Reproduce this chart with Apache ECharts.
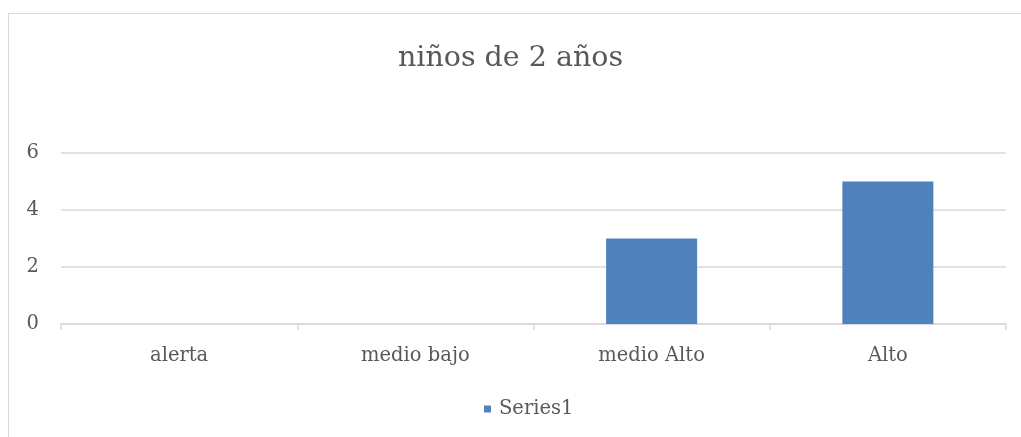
<!DOCTYPE html>
<html>
<head>
<meta charset="utf-8">
<script src="https://cdn.jsdelivr.net/npm/echarts@6/dist/echarts.min.js"></script>
<style>
  html, body { margin: 0; padding: 0; background: #fff; }
  #chart { width: 1021px; height: 437px; }
  .frame {
    position: absolute; left: 8px; top: 13px;
    width: 1030px; height: 440px;
    border: 1px solid #d9d9d9; box-sizing: border-box;
    pointer-events: none;
  }
</style>
</head>
<body>
<div id="chart"></div>
<div class="frame"></div>
<script>
// datos
const categories = ['alerta', 'medio bajo', 'medio Alto', 'Alto'];
const series1 = [0, 0, 3, 5];
const yTicks = [0, 2, 4, 6];

const font = '"DejaVu Serif", "Liberation Serif", serif';
const textColor = '#595959';

const chart = echarts.init(document.getElementById('chart'));
chart.setOption({
  animation: false,
  title: {
    text: 'niños de 2 años',
    left: 'center',
    top: 39,
    textStyle: { fontFamily: font, fontSize: 28.5, fontWeight: 'normal', color: textColor }
  },
  legend: {
    bottom: 13,
    left: 479,
    itemWidth: 7,
    itemHeight: 7,
    icon: 'rect',
    itemGap: 8,
    textStyle: { fontFamily: font, fontSize: 19.5, color: textColor, padding: [0, 0, 0, 3] },
    data: ['Series1']
  },
  grid: { left: 61, right: 15, top: 153, bottom: 113 },
  xAxis: {
    type: 'category',
    data: categories,
    axisLine: { lineStyle: { color: '#d9d9d9', width: 1.5 } },
    axisTick: { show: true, length: 6, lineStyle: { color: '#d9d9d9', width: 1.5 } },
    axisLabel: { fontFamily: font, fontSize: 19.5, color: textColor, margin: 22 }
  },
  yAxis: {
    type: 'value',
    min: yTicks[0],
    max: yTicks[yTicks.length - 1],
    interval: 2,
    axisLine: { show: false },
    axisTick: { show: false },
    axisLabel: { fontFamily: font, fontSize: 19.5, color: textColor, margin: 22 },
    splitLine: { lineStyle: { color: '#d9d9d9', width: 1.5 } }
  },
  series: [{
    name: 'Series1',
    type: 'bar',
    data: series1,
    barWidth: 91,
    itemStyle: { color: '#4f81bd' }
  }]
});
</script>
</body>
</html>
